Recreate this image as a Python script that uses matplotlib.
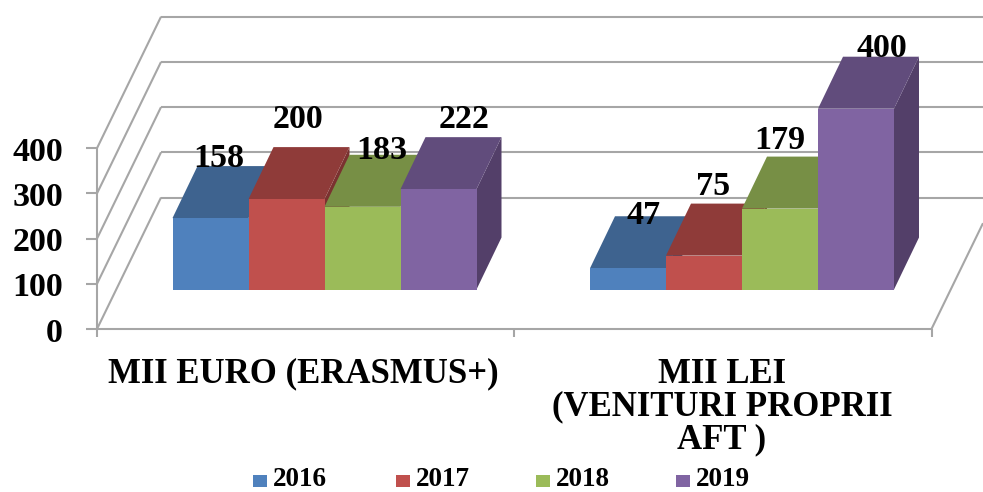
import matplotlib
matplotlib.use('Agg')
import matplotlib.pyplot as plt
from matplotlib.patches import Polygon, Rectangle

years = ['2016', '2017', '2018', '2019']
groups = ['MII EURO (ERASMUS+)', 'MII LEI\n(VENITURI PROPRII\nAFT )']
euro_values = [158, 200, 183, 222]
lei_values = [47, 75, 179, 400]
y_ticks = [0, 100, 200, 300, 400]

front_colors = ['#4F81BD', '#C0504D', '#9BBB59', '#8064A2']
top_colors = ['#3E638F', '#8F3B39', '#778F45', '#614C7C']
side_colors = ['#34547A', '#7A3230', '#657A3A', '#533F69']
grid_color = '#A6A6A6'
font = 'Liberation Serif'

# px layout of the fake 3d box
x0, x1 = 97, 931.5
y0 = 329
px_per_unit = 0.452
wall_dx, wall_dy = 64, -131.5
bar_dx, bar_dy = 25, -52
bar_base = 289.5
bar_w = 76
group_left = [172.5, 590]

# where the labels sit relative to the bar front (the original has them hand placed)
nudge = [[(8, -60), (11, -80), (19, -56), (26, -70)],
         [(16, -53), (9, -69), (0, -68), (26, -60)]]

fig = plt.figure(figsize=(9.83, 4.92), dpi=100)
ax = fig.add_axes([0, 0, 1, 1])
ax.set_xlim(0, 983)
ax.set_ylim(492, 0)
ax.axis('off')


def gline(xs, ys, z=1):
    ax.plot(xs, ys, color=grid_color, lw=1.5, zorder=z, solid_capstyle='butt')


# walls, gridlines, ticks
gline([x0, x0], [y0 - 400 * px_per_unit, y0 + 8])
gline([x0, x1], [y0, y0])
for t in y_ticks:
    y = y0 - t * px_per_unit
    gline([x0 - 11, x0], [y, y])
    gline([x0, x0 + wall_dx], [y, y + wall_dy])
    gline([x0 + wall_dx, 983], [y + wall_dy, y + wall_dy])
    ax.text(63, y + 4, str(t), ha='right', va='center', fontsize=24.5,
            family=font, weight='bold', color='black')
gline([x1, 983], [y0, y0 + wall_dy * (983 - x1) / wall_dx])
gline([(x0 + x1) / 2, (x0 + x1) / 2], [y0, y0 + 8])
gline([x1, x1], [y0, y0 + 8])


def draw_bar(left, value, i):
    h = value * px_per_unit
    right = left + bar_w
    top = bar_base - h
    ax.add_patch(Polygon([(right, bar_base), (right + bar_dx, bar_base + bar_dy),
                          (right + bar_dx, top + bar_dy), (right, top)],
                         fc=side_colors[i], ec='none', zorder=3))
    ax.add_patch(Polygon([(left, top), (right, top), (right + bar_dx, top + bar_dy),
                          (left + bar_dx, top + bar_dy)],
                         fc=top_colors[i], ec='none', zorder=3))
    ax.add_patch(Rectangle((left, top), bar_w, h, fc=front_colors[i], ec='none', zorder=3))


for g, values in enumerate([euro_values, lei_values]):
    for i, v in enumerate(values):
        draw_bar(group_left[g] + i * bar_w, v, i)
    for i, v in enumerate(values):
        cx = group_left[g] + i * bar_w + bar_w / 2
        top = bar_base - v * px_per_unit
        ax.text(cx + nudge[g][i][0], top + nudge[g][i][1], str(v), ha='center', va='center',
                fontsize=24.5, family=font, weight='bold', color='black', zorder=5)

# category labels
ax.text(303, 374, groups[0], ha='center', va='center', fontsize=25, family=font, weight='bold')
ax.text(722, 407, groups[1], ha='center', va='center', fontsize=25, family=font, weight='bold',
        linespacing=0.98)

# legend
legend_x = [253, 396, 536, 676]
for i, yr in enumerate(years):
    ax.add_patch(Rectangle((legend_x[i], 475), 14, 12, fc=front_colors[i], ec='none'))
    ax.text(legend_x[i] + 20, 485.5, yr, ha='left', va='baseline', fontsize=19.5,
            family=font, weight='bold')

fig.savefig('out.png', dpi=100)
